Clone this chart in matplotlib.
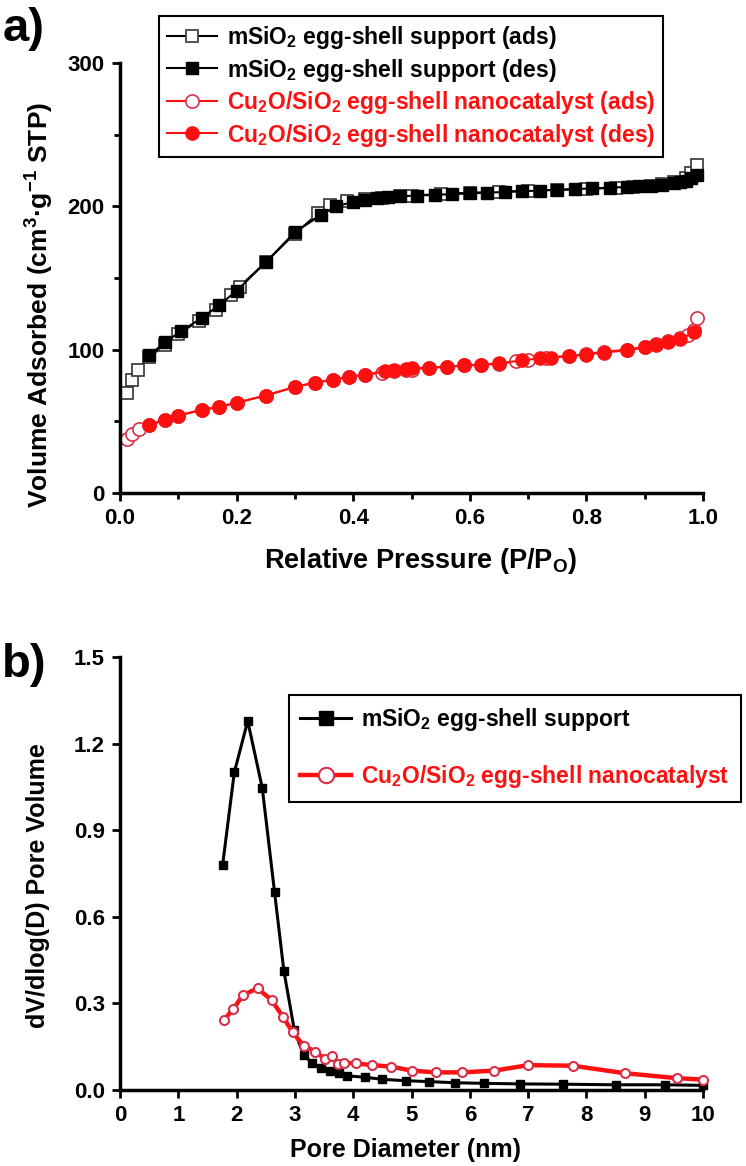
import matplotlib
matplotlib.use('Agg')
import matplotlib.pyplot as plt
from matplotlib.ticker import MultipleLocator

plt.rcParams['font.family'] = ['Liberation Sans', 'DejaVu Sans']
plt.rcParams['font.weight'] = 'bold'
plt.rcParams['mathtext.default'] = 'regular'

# panel a: N2 isotherms
ms_ads_x = [0.012, 0.02, 0.03, 0.05, 0.077, 0.10, 0.135, 0.165, 0.19, 0.205, 0.25, 0.30, 0.34, 0.36,
            0.39, 0.42, 0.45, 0.48, 0.50, 0.55, 0.60, 0.65, 0.70, 0.75, 0.80, 0.85, 0.88, 0.91, 0.93,
            0.95, 0.97, 0.98, 0.99]
ms_ads_y = [70, 79, 86, 95, 103, 111, 120, 128, 138, 144, 161, 181, 195, 201,
            204, 205, 206, 207, 207.5, 208.5, 209.5, 210, 211, 211.5, 212, 213, 213.5, 214.5, 215.5,
            217, 220, 223, 229]
ms_des_x = [0.99, 0.98, 0.97, 0.96, 0.95, 0.93, 0.91, 0.89, 0.87, 0.84, 0.81, 0.78, 0.75, 0.72,
            0.69, 0.66, 0.63, 0.60, 0.57, 0.54, 0.51, 0.48, 0.46, 0.44, 0.42, 0.40, 0.37, 0.345,
            0.30, 0.25, 0.20, 0.17, 0.14, 0.105, 0.077, 0.05]
ms_des_y = [222, 220, 218, 217, 216, 215, 214.5, 214, 213.5, 213, 212.5, 212, 211.5, 211,
            210.5, 210, 209.5, 209, 208.5, 208, 207.5, 207, 206.5, 205.5, 204.5, 203, 200, 194,
            182, 161, 141, 131, 122, 113, 105, 96]

cu_ads_x = [0.012, 0.02, 0.033, 0.05, 0.077, 0.10, 0.14, 0.17, 0.20, 0.25, 0.30, 0.335, 0.365,
            0.393, 0.42, 0.45, 0.47, 0.49, 0.50, 0.53, 0.56, 0.59, 0.62, 0.65, 0.68, 0.70, 0.73,
            0.77, 0.80, 0.83, 0.87, 0.90, 0.92, 0.94, 0.96, 0.975, 0.985, 0.99]
cu_ads_y = [38, 41, 44.5, 47.5, 51, 54, 58, 60, 63, 68, 74, 77, 79,
            81, 82.5, 84, 85, 86, 86, 87.5, 88, 89, 89.5, 90, 92, 93, 94.5,
            95.5, 97, 98.5, 100, 102, 104, 106, 108, 110, 114, 122]
cu_des_x = [0.985, 0.96, 0.94, 0.92, 0.90, 0.87, 0.83, 0.80, 0.77, 0.74, 0.72, 0.69, 0.65, 0.62,
            0.59, 0.56, 0.53, 0.50, 0.49, 0.47, 0.455, 0.42, 0.393, 0.365, 0.335, 0.30, 0.25,
            0.20, 0.17, 0.14, 0.10, 0.077, 0.05]
cu_des_y = [112, 107.5, 105.5, 103.5, 101.5, 99.5, 98, 96.5, 95.5, 94.5, 94, 92.5, 90.5, 89.5,
            89, 88, 87.5, 87, 86.5, 86, 85, 82.5, 81, 79, 77, 74, 68,
            63, 60, 58, 54, 51, 47.5]

# panel b: pore size distribution
psd_ms_x = [1.76, 1.96, 2.19, 2.44, 2.65, 2.81, 2.99, 3.15, 3.30, 3.44, 3.60, 3.75, 3.90, 4.20,
            4.50, 4.90, 5.30, 5.75, 6.25, 6.86, 7.60, 8.50, 9.35, 10.0]
psd_ms_y = [0.78, 1.10, 1.278, 1.046, 0.686, 0.413, 0.207, 0.121, 0.093, 0.076, 0.065, 0.060,
            0.049, 0.044, 0.037, 0.032, 0.029, 0.025, 0.023, 0.021, 0.020, 0.018, 0.018, 0.016]
psd_cu_x = [1.78, 1.94, 2.11, 2.36, 2.60, 2.80, 2.96, 3.15, 3.35, 3.52, 3.63, 3.74, 3.85, 4.05,
            4.33, 4.65, 5.00, 5.42, 5.87, 6.42, 7.00, 7.77, 8.66, 9.55, 10.0]
psd_cu_y = [0.242, 0.280, 0.329, 0.352, 0.311, 0.252, 0.200, 0.153, 0.133, 0.107, 0.118, 0.090,
            0.094, 0.092, 0.086, 0.081, 0.067, 0.061, 0.061, 0.067, 0.086, 0.084, 0.058, 0.041, 0.036]

lbl_ms = 'mSiO$_2$ egg-shell support'
lbl_cu = 'Cu$_2$O/SiO$_2$ egg-shell nanocatalyst'
red = '#ff1010'


def style_axis(ax):
    for side in ['top', 'right']:
        ax.spines[side].set_visible(False)
    for side in ['left', 'bottom']:
        ax.spines[side].set_linewidth(2.5)
    ax.tick_params(which='major', direction='out', length=6, width=2, labelsize=16, pad=5)
    ax.tick_params(which='minor', direction='out', length=4, width=2)
    for lab in ax.get_xticklabels() + ax.get_yticklabels():
        lab.set_fontweight('bold')


fig = plt.figure(figsize=(7.46, 11.66), dpi=100)

# ---- panel a
ax1 = fig.add_axes([0.1609, 0.5772, 0.7815, 0.3688])
ax1.plot(ms_ads_x, ms_ads_y, '-', color='black', lw=1.5, marker='s', ms=8.5, mfc='white',
         mec='#333333', mew=1.2, clip_on=False, label=lbl_ms + ' (ads)')
ax1.plot(ms_des_x, ms_des_y, '-', color='black', lw=1.5, marker='s', ms=8.5, mfc='black',
         mec='black', clip_on=False, label=lbl_ms + ' (des)')
ax1.plot(cu_ads_x, cu_ads_y, '-', color=red, lw=1.5, marker='o', ms=9.5, mfc='white',
         mec='#d8304a', mew=1.2, clip_on=False, label=lbl_cu + ' (ads)')
ax1.plot(cu_des_x, cu_des_y, '-', color=red, lw=1.5, marker='o', ms=9.5, mfc=red,
         mec=red, clip_on=False, label=lbl_cu + ' (des)')
ax1.set_xlim(0, 1.0)
ax1.set_ylim(0, 300)
ax1.xaxis.set_major_locator(MultipleLocator(0.2))
ax1.xaxis.set_minor_locator(MultipleLocator(0.1))
ax1.yaxis.set_major_locator(MultipleLocator(100))
ax1.yaxis.set_minor_locator(MultipleLocator(50))
style_axis(ax1)
ax1.set_xlabel('Relative Pressure (P/P$_O$)', fontsize=19.5, fontweight='bold')
ax1.set_ylabel('Volume Adsorbed (cm$^3$·g$^{-1}$ STP)', fontsize=19, fontweight='bold')
ax1.xaxis.label.set(va='center', ha='center')
ax1.yaxis.label.set(va='center', ha='center')
ax1.xaxis.set_label_coords(0.516, -0.158)
ax1.yaxis.set_label_coords(-0.137, 0.437)

leg1 = ax1.legend(loc='upper left', bbox_to_anchor=(159 / 746, 1 - 16 / 1166),
                  bbox_transform=fig.transFigure, borderaxespad=0,
                  prop={'weight': 'bold', 'size': 16.5}, handlelength=2.2, handletextpad=0.4,
                  labelspacing=0.24, borderpad=0.35, fancybox=False, framealpha=1)
leg1.get_frame().set_edgecolor('black')
leg1.get_frame().set_linewidth(1.5)
for txt, col in zip(leg1.get_texts(), ['black', 'black', red, red]):
    txt.set_color(col)

fig.text(24 / 746, 1 - 29 / 1166, 'a)', fontsize=34, fontweight='bold', ha='center', va='center')

# ---- panel b
ax2 = fig.add_axes([0.1609, 0.0652, 0.7815, 0.3714])
ax2.plot(psd_ms_x, psd_ms_y, '-', color='black', lw=2.2, marker='s', ms=6, mfc='black',
         mec='black', clip_on=False, label=lbl_ms)
ax2.plot(psd_cu_x, psd_cu_y, '-', color=red, lw=3.2, marker='o', ms=6.5, mfc='white',
         mec='#d8304a', mew=1.5, clip_on=False, label=lbl_cu)
ax2.set_xlim(0, 10)
ax2.set_ylim(0, 1.5)
ax2.xaxis.set_major_locator(MultipleLocator(1))
ax2.yaxis.set_major_locator(MultipleLocator(0.3))
style_axis(ax2)
ax2.set_xlabel('Pore Diameter (nm)', fontsize=18, fontweight='bold')
ax2.set_ylabel('dV/dlog(D) Pore Volume', fontsize=18, fontweight='bold')
ax2.xaxis.label.set(va='center', ha='center')
ax2.yaxis.label.set(va='center', ha='center')
ax2.xaxis.set_label_coords(0.489, -0.139)
ax2.yaxis.set_label_coords(-0.141, 0.473)

leg2 = ax2.legend(loc='upper left', bbox_to_anchor=(289 / 746, 1 - 695 / 1166),
                  bbox_transform=fig.transFigure, borderaxespad=0,
                  prop={'weight': 'bold', 'size': 16.5}, handlelength=2.2, handletextpad=0.45,
                  labelspacing=1.3, borderpad=0.5, markerscale=1.7, fancybox=False, framealpha=1)
leg2.get_frame().set_edgecolor('black')
leg2.get_frame().set_linewidth(1.5)
for txt, col in zip(leg2.get_texts(), ['black', red]):
    txt.set_color(col)

fig.text(24 / 746, 1 - 665 / 1166, 'b)', fontsize=34, fontweight='bold', ha='center', va='center')

fig.savefig('out.png', dpi=100)
